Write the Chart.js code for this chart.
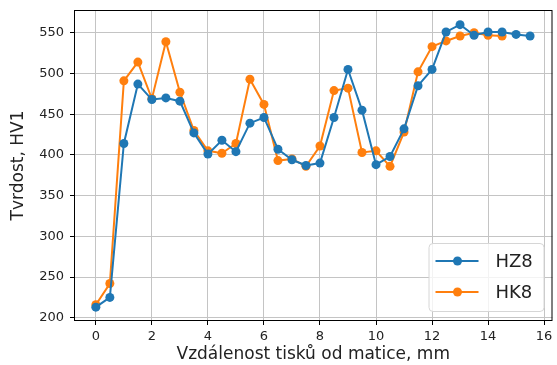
<!DOCTYPE html>
<html>
<head>
<meta charset="utf-8">
<script src="https://cdn.jsdelivr.net/npm/chart.js@4/dist/chart.umd.min.js"></script>
<style>
  html, body { margin: 0; padding: 0; background: #fff; }
  #wrap { width: 557px; height: 365px; }
</style>
</head>
<body>
<div id="wrap"><canvas id="hardnessChart"></canvas></div>
<script>
// distance from the die, mm (step 0.5)
const xHZ8 = [0, 0.5, 1, 1.5, 2, 2.5, 3, 3.5, 4, 4.5, 5, 5.5, 6, 6.5, 7, 7.5,
              8, 8.5, 9, 9.5, 10, 10.5, 11, 11.5, 12, 12.5, 13, 13.5, 14, 14.5, 15, 15.5];
const hz8 = [213, 225, 414, 487, 468, 470, 466, 427, 401, 418, 404, 439, 446, 407, 394, 387,
             390, 446, 505, 455, 388, 398, 432, 485, 505, 551, 560, 547, 551, 551, 548, 546];

const xHK8 = [0, 0.5, 1, 1.5, 2, 2.5, 3, 3.5, 4, 4.5, 5, 5.5, 6, 6.5, 7, 7.5,
              8, 8.5, 9, 9.5, 10, 10.5, 11, 11.5, 12, 12.5, 13, 13.5, 14, 14.5];
const hk8 = [216, 242, 491, 514, 469, 539, 477, 430, 405, 402, 414, 493, 462, 393, 395, 386,
             411, 479, 482, 403, 405, 386, 428, 502, 533, 540, 546, 550, 547, 546];

const xTicks = [0, 2, 4, 6, 8, 10, 12, 14, 16];
const yTicks = [200, 250, 300, 350, 400, 450, 500, 550];

const font = "'DejaVu Sans', sans-serif";
const blue = '#1f77b4';
const orange = '#ff7f0e';

function toPoints(xs, ys) {
    return xs.map((x, i) => ({ x: x, y: ys[i] }));
}

// black frame around the plot area
const framePlugin = {
    id: 'frame',
    afterDatasetsDraw(chart) {
        const a = chart.chartArea;
        const ctx = chart.ctx;
        ctx.save();
        ctx.strokeStyle = '#000';
        ctx.lineWidth = 1;
        ctx.strokeRect(a.left + 0.5, a.top + 0.5, a.right - a.left - 1, a.bottom - a.top - 1);
        ctx.restore();
    }
};

// legend inside the lower right corner
const innerLegend = {
    id: 'innerLegend',
    afterDraw(chart) {
        const a = chart.chartArea;
        const ctx = chart.ctx;
        const boxW = 115, boxH = 68;
        const bx = a.right - 9 - boxW;
        const by = a.bottom - 10 - boxH;
        ctx.save();
        ctx.fillStyle = 'rgba(255,255,255,0.8)';
        ctx.strokeStyle = '#d6d6d6';
        ctx.lineWidth = 1;
        ctx.beginPath();
        ctx.roundRect(bx + 0.5, by + 0.5, boxW, boxH, 4);
        ctx.fill();
        ctx.stroke();
        ctx.font = '18px ' + font;
        ctx.textBaseline = 'middle';
        chart.data.datasets.forEach((ds, i) => {
            const cy = by + 18 + i * 31;
            ctx.strokeStyle = ds.borderColor;
            ctx.lineWidth = 2;
            ctx.beginPath();
            ctx.moveTo(bx + 7, cy);
            ctx.lineTo(bx + 50, cy);
            ctx.stroke();
            ctx.fillStyle = ds.backgroundColor;
            ctx.beginPath();
            ctx.arc(bx + 29, cy, 4.5, 0, Math.PI * 2);
            ctx.fill();
            ctx.fillStyle = '#222';
            ctx.fillText(ds.label, bx + 67, cy + 1);
        });
        ctx.restore();
    }
};

new Chart(document.getElementById('hardnessChart'), {
    type: 'line',
    data: {
        datasets: [{
            label: 'HZ8',
            data: toPoints(xHZ8, hz8),
            borderColor: blue,
            backgroundColor: blue,
            borderWidth: 2,
            pointRadius: 4.5,
            pointHoverRadius: 4.5,
            pointBorderWidth: 0,
            tension: 0
        }, {
            label: 'HK8',
            data: toPoints(xHK8, hk8),
            borderColor: orange,
            backgroundColor: orange,
            borderWidth: 2,
            pointRadius: 4.5,
            pointHoverRadius: 4.5,
            pointBorderWidth: 0,
            tension: 0
        }]
    },
    options: {
        responsive: true,
        maintainAspectRatio: false,
        animation: false,
        layout: { padding: { top: 10, right: 3, left: 0, bottom: 0 } },
        plugins: {
            legend: { display: false },
            tooltip: { enabled: false }
        },
        scales: {
            x: {
                type: 'linear',
                min: -0.78,
                max: 16.3,
                afterBuildTicks: (s) => { s.ticks = xTicks.map(v => ({ value: v })); },
                afterFit: (s) => { s.height = 44; s.paddingLeft = 0; s.paddingRight = 0; },
                grid: { color: '#c4c4c4', lineWidth: 1, tickColor: '#000', tickLength: 4 },
                border: { display: false },
                ticks: { color: '#222', font: { family: font, size: 13 }, padding: 4, maxRotation: 0 },
                title: {
                    display: true,
                    text: 'Vzdálenost tisků od matice, mm',
                    color: '#222',
                    font: { family: font, size: 17 },
                    padding: { top: 0, bottom: 0 }
                }
            },
            y: {
                min: 196,
                max: 578,
                afterBuildTicks: (s) => { s.ticks = yTicks.map(v => ({ value: v })); },
                afterFit: (s) => { s.width = 74; s.paddingTop = 0; s.paddingBottom = 0; },
                grid: { color: '#c4c4c4', lineWidth: 1, tickColor: '#000', tickLength: 4 },
                border: { display: false },
                ticks: { color: '#222', font: { family: font, size: 13 }, padding: 6 },
                title: {
                    display: true,
                    text: 'Tvrdost, HV1',
                    color: '#222',
                    font: { family: font, size: 17 },
                    padding: { top: 8, bottom: 0 }
                }
            }
        }
    },
    plugins: [framePlugin, innerLegend]
});
</script>
</body>
</html>
